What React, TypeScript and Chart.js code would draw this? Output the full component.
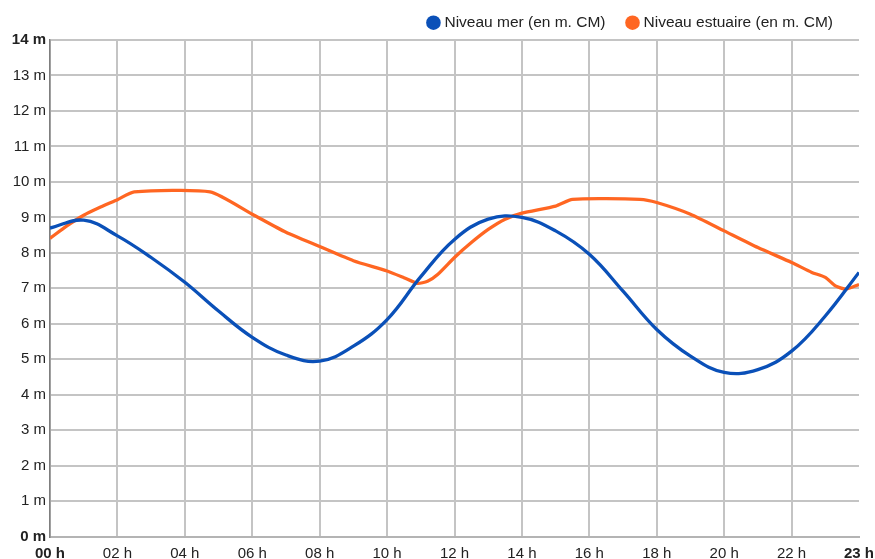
import React, { useEffect, useRef } from "react";
import { Chart, registerables } from "chart.js";

Chart.register(...registerables);

// ---- data ----
const seaLabel = "Niveau mer (en m. CM)";
const estuaryLabel = "Niveau estuaire (en m. CM)";

const seaHours = [0, 1, 2, 3, 4, 5, 6, 7, 8, 9, 10, 11, 12, 13, 14, 15, 16, 17, 18, 19, 20, 21, 22, 23, 24];
const seaLevels = [8.7, 8.92, 8.48, 7.87, 7.17, 6.36, 5.62, 5.12, 4.95, 5.37, 6.12, 7.33, 8.38, 8.95, 9.0, 8.62, 7.96, 6.92, 5.84, 5.09, 4.63, 4.71, 5.23, 6.22, 7.45];

const estuaryHours = [0, 0.5, 1, 1.5, 2, 2.5, 4.75, 6, 7, 8, 9, 10, 10.5, 10.9, 11.2, 11.5, 12, 12.5, 13, 13.5, 14, 15, 15.5, 17.5, 18, 19, 20, 21, 22, 22.6, 23, 23.3, 23.6, 24];
const estuaryLevels = [8.41, 8.76, 9.06, 9.29, 9.5, 9.72, 9.72, 9.09, 8.58, 8.18, 7.78, 7.49, 7.3, 7.14, 7.2, 7.39, 7.87, 8.29, 8.66, 8.95, 9.12, 9.32, 9.51, 9.51, 9.42, 9.09, 8.62, 8.15, 7.73, 7.45, 7.31, 7.07, 6.98, 7.11];

const xTickLabels = ["00 h", "02 h", "04 h", "06 h", "08 h", "10 h", "12 h", "14 h", "16 h", "18 h", "20 h", "22 h", "23 h"];
const yUnit = "m";

const SEA_COLOR = "#0a50b8";
const ESTUARY_COLOR = "#ff6622";
const GRID_COLOR = "#c4c4c4";
const TEXT_COLOR = "#222222";
const FONT_FAMILY = '"Liberation Sans", Arial, Helvetica, sans-serif';

const topLegend = {
  id: "topLegend",
  afterDraw(chart: any) {
    const ctx = chart.ctx as CanvasRenderingContext2D;
    ctx.save();
    ctx.font = `15.5px ${FONT_FAMILY}`;
    ctx.textBaseline = "middle";
    ctx.textAlign = "left";
    const y = 22.7;
    let right = chart.width - 42;
    const ds = chart.data.datasets;
    for (let i = ds.length - 1; i >= 0; i--) {
      const text = ds[i].label as string;
      const w = ctx.measureText(text).width;
      const tx = right - w;
      ctx.fillStyle = TEXT_COLOR;
      ctx.fillText(text, tx, y);
      const cx = tx - 11;
      ctx.beginPath();
      ctx.arc(cx, y, 7.3, 0, Math.PI * 2);
      ctx.fillStyle = ds[i].borderColor;
      ctx.fill();
      right = cx - 27;
    }
    ctx.restore();
  },
};

export default function App() {
  const ref = useRef<HTMLCanvasElement>(null);

  useEffect(() => {
    if (!ref.current) return;
    const chart = new Chart(ref.current, {
      type: "line",
      data: {
        datasets: [
          {
            label: seaLabel,
            data: seaHours.map((h, i) => ({ x: h, y: seaLevels[i] })),
            borderColor: SEA_COLOR,
            backgroundColor: SEA_COLOR,
            borderWidth: 3.3,
            pointRadius: 0,
            tension: 0.4,
            fill: false,
          },
          {
            label: estuaryLabel,
            data: estuaryHours.map((h, i) => ({ x: h, y: estuaryLevels[i] })),
            borderColor: ESTUARY_COLOR,
            backgroundColor: ESTUARY_COLOR,
            borderWidth: 3.3,
            pointRadius: 0,
            tension: 0.2,
            borderJoinStyle: "round",
            fill: false,
          },
        ],
      },
      options: {
        animation: false,
        responsive: true,
        maintainAspectRatio: false,
        layout: { padding: { top: 40, right: 16, left: 0, bottom: 0 } },
        plugins: {
          legend: { display: false },
          tooltip: { enabled: false },
        },
        scales: {
          x: {
            type: "linear",
            min: 0,
            max: 24,
            afterFit: (s: any) => {
              s.height = 22.3;
              s.paddingLeft = 0;
              s.paddingRight = 0;
            },
            ticks: {
              stepSize: 2,
              autoSkip: false,
              maxRotation: 0,
              padding: 8,
              color: TEXT_COLOR,
              font: (c: any) => ({
                family: FONT_FAMILY,
                size: 15,
                weight: c.index === 0 || c.index === xTickLabels.length - 1 ? "bold" : "normal",
              }),
              callback: (_v: any, i: number) => xTickLabels[i],
            },
            grid: {
              color: (c: any) => (c.tick && c.tick.value === 24 ? "rgba(0,0,0,0)" : GRID_COLOR),
              lineWidth: 2,
              drawTicks: false,
            },
            border: { color: "#b4b4b4", width: 2 },
          },
          y: {
            min: 0,
            max: 14,
            afterFit: (s: any) => {
              s.width = 50;
            },
            ticks: {
              stepSize: 1,
              padding: 4,
              color: TEXT_COLOR,
              font: (c: any) => ({
                family: FONT_FAMILY,
                size: 15,
                weight: c.tick && (c.tick.value === 0 || c.tick.value === 14) ? "bold" : "normal",
              }),
              callback: (v: any) => `${v} ${yUnit}`,
            },
            grid: { color: GRID_COLOR, lineWidth: 2, drawTicks: false },
            border: { color: "#7f7f7f", width: 1.5 },
          },
        },
      },
      plugins: [topLegend],
    });
    return () => chart.destroy();
  }, []);

  return (
    <div style={{ position: "fixed", left: 0, top: 0, width: 875, height: 559, background: "#fff" }}>
      <canvas ref={ref} />
    </div>
  );
}
